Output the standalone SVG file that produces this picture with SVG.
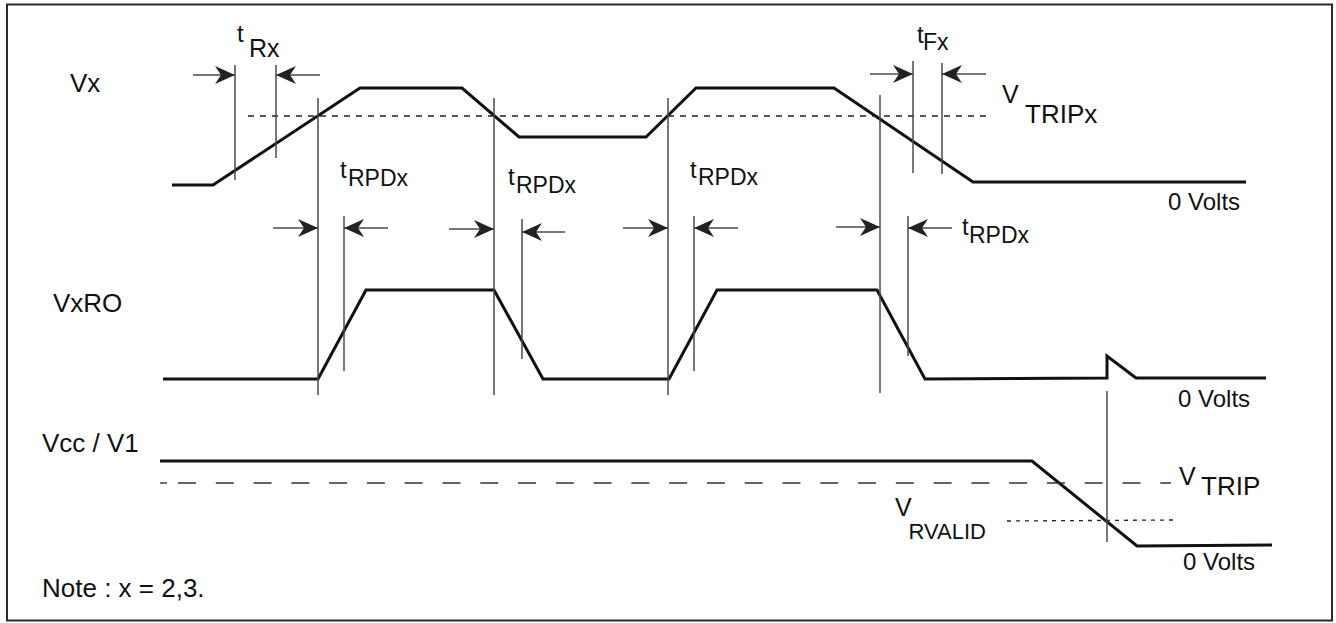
<svg xmlns="http://www.w3.org/2000/svg" width="1336" height="623" viewBox="0 0 1336 623">
<style>
.bg{fill:#fff}
.frame{fill:none;stroke:#2a2a2a;stroke-width:2}
.wave{fill:none;stroke:#111;stroke-width:3;stroke-linejoin:miter}
.vl{stroke:#4a4a4a;stroke-width:1.5}
.arr{stroke:#4a4a4a;stroke-width:1.5;marker-end:url(#ah)}
.dot1{fill:none;stroke:#222;stroke-width:1.3;stroke-dasharray:6 6}
.dot2{fill:none;stroke:#222;stroke-width:1.3;stroke-dasharray:4 5}
.dash{fill:none;stroke:#333;stroke-width:1.4;stroke-dasharray:18 19.78}
text{font-family:"Liberation Sans",Arial,Helvetica,sans-serif;fill:#111}
.lbl{font-size:26px}
.t{font-size:24px}
.sub{font-size:23px}
.sub2{font-size:25px}
.v{font-size:25px}
.vs{font-size:26px}
.zv{font-size:24px}
.rv{font-size:22px}
</style>
<defs>
<marker id="ah" viewBox="0 0 20 18" refX="20" refY="9" markerWidth="20" markerHeight="18" markerUnits="userSpaceOnUse" orient="auto">
<path d="M0,0 L20,9 L0,18 L6,9 Z" fill="#222"/>
</marker>
</defs>
<rect class="bg" x="0" y="0" width="1336" height="623"/>
<rect class="frame" x="7" y="4.5" width="1325" height="616"/>

<g id="vx">
<path class="wave" d="M172,185 L213,185 L360,88 L462,88 L519,137 L646,137 L696,88 L834,88 L973,182 L1246,182"/>
<text class="lbl" x="70" y="92">Vx</text>
<line class="dot1" x1="248" y1="116" x2="990" y2="116"/>
<text class="v" x="1002" y="103">V</text>
<text class="vs" x="1025" y="123">TRIPx</text>
<text class="zv" x="1168" y="210">0 Volts</text>
</g>

<g id="vxro">
<path class="wave" d="M163,379 L318,379 L366,290 L494,290 L543,379 L669,379 L717,290 L877,290 L925,379 L1107,378 L1107,356 L1136,378 L1266,378"/>
<text class="lbl" x="53" y="312">VxRO</text>
<text class="zv" x="1178" y="407">0 Volts</text>
</g>

<g id="vcc">
<path class="wave" d="M160,461 L1032,461 L1137,546 L1272,545"/>
<text class="lbl" x="42" y="452">Vcc / V1</text>
<line class="dash" x1="160" y1="483" x2="167" y2="483" style="stroke-dasharray:none"/>
<line class="dash" x1="160" y1="483" x2="1171" y2="483" style="stroke-dashoffset:19.78"/>
<text class="v" x="1179" y="485">V</text>
<text class="vs" x="1201" y="495">TRIP</text>
<line class="dot2" x1="1007" y1="521" x2="1173" y2="520"/>
<text class="v" x="895" y="516">V</text>
<text class="rv" x="986" y="539" text-anchor="end">RVALID</text>
<text class="zv" x="1183" y="570">0 Volts</text>
</g>

<g id="note">
<text class="lbl" x="42" y="597">Note : x = 2,3.</text>
</g>

<g id="timing-labels">
<text class="t" x="237" y="42">t</text><text class="sub2" x="249" y="57">Rx</text>
<text class="t" x="917" y="43">t</text><text class="sub" x="923" y="50">Fx</text>
<text class="t" x="340" y="178">t</text><text class="sub" x="348" y="186">RPDx</text>
<text class="t" x="508" y="185">t</text><text class="sub" x="516" y="193">RPDx</text>
<text class="t" x="690" y="178">t</text><text class="sub" x="698" y="185">RPDx</text>
<text class="t" x="962" y="235">t</text><text class="sub" x="969" y="243">RPDx</text>
</g>

<g id="connectors">
<line class="vl" x1="235" y1="65" x2="235" y2="180"/>
<line class="vl" x1="276" y1="65" x2="276" y2="158"/>
<line class="vl" x1="318" y1="98" x2="318" y2="395"/>
<line class="vl" x1="344" y1="216" x2="344" y2="371"/>
<line class="vl" x1="494" y1="98" x2="494" y2="395"/>
<line class="vl" x1="522" y1="219" x2="522" y2="359"/>
<line class="vl" x1="668" y1="98" x2="668" y2="395"/>
<line class="vl" x1="694" y1="216" x2="694" y2="371"/>
<line class="vl" x1="880" y1="95" x2="880" y2="393"/>
<line class="vl" x1="908" y1="216" x2="908" y2="356"/>
<line class="vl" x1="913" y1="61" x2="913" y2="173"/>
<line class="vl" x1="942" y1="63" x2="942" y2="174"/>
<line class="vl" x1="1107" y1="391" x2="1107" y2="542"/>
<line class="arr" x1="193" y1="75" x2="235" y2="75"/>
<line class="arr" x1="320" y1="75" x2="276" y2="75"/>
<line class="arr" x1="870" y1="74" x2="913" y2="74"/>
<line class="arr" x1="986" y1="74" x2="942" y2="74"/>
<line class="arr" x1="273" y1="228" x2="318" y2="228"/>
<line class="arr" x1="388" y1="228" x2="344" y2="228"/>
<line class="arr" x1="449" y1="229" x2="494" y2="229"/>
<line class="arr" x1="565" y1="232" x2="522" y2="232"/>
<line class="arr" x1="623" y1="228" x2="668" y2="228"/>
<line class="arr" x1="738" y1="228" x2="694" y2="228"/>
<line class="arr" x1="836" y1="227" x2="880" y2="227"/>
<line class="arr" x1="952" y1="228" x2="908" y2="228"/>
</g>
</svg>
